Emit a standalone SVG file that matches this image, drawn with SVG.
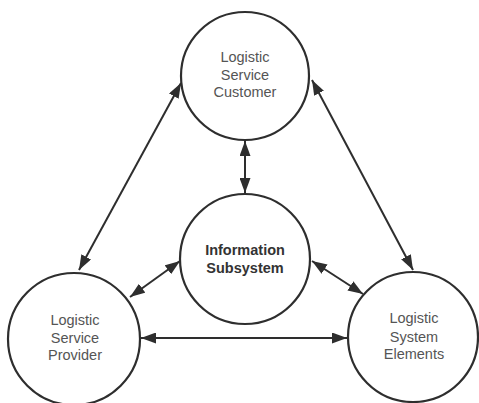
<svg xmlns="http://www.w3.org/2000/svg" width="479" height="403" viewBox="0 0 479 403">
<defs>
<marker id="ah" viewBox="0 0 15 11" refX="15" refY="5.5" markerWidth="15" markerHeight="11" markerUnits="userSpaceOnUse" orient="auto-start-reverse">
<path d="M0,0 L15,5.5 L0,11 Z" fill="#2e2e2e"/>
</marker>
</defs>
<style>
.node circle{fill:#fff;stroke:#2e2e2e;stroke-width:2.2}
.lbl{font-family:"Liberation Sans",Arial,sans-serif;font-size:14.5px;fill:#555;text-anchor:middle}
.b{font-weight:bold;fill:#333}
.conn line{stroke:#2e2e2e;stroke-width:2;marker-start:url(#ah);marker-end:url(#ah)}
</style>
<rect width="479" height="403" fill="#fff"/>
<g id="connectors" class="conn">
<line x1="181" y1="83" x2="79" y2="270"/>
<line x1="312" y1="80" x2="413" y2="270"/>
<line x1="245" y1="141" x2="245" y2="193"/>
<line x1="180" y1="261" x2="130" y2="297"/>
<line x1="312" y1="261" x2="363" y2="294"/>
<line x1="141" y1="338" x2="347" y2="338"/>
</g>
<g id="customer" class="node">
<circle cx="245" cy="76" r="64"/>
<text class="lbl" x="245" y="62">Logistic</text>
<text class="lbl" x="245" y="80">Service</text>
<text class="lbl" x="245" y="97">Customer</text>
</g>
<g id="info" class="node">
<circle cx="245" cy="259" r="65"/>
<text class="lbl b" x="245" y="255">Information</text>
<text class="lbl b" x="245" y="273">Subsystem</text>
</g>
<g id="provider" class="node">
<circle cx="74" cy="339" r="66"/>
<text class="lbl" x="75" y="325">Logistic</text>
<text class="lbl" x="75" y="343">Service</text>
<text class="lbl" x="75" y="360">Provider</text>
</g>
<g id="elements" class="node">
<circle cx="413" cy="337" r="65"/>
<text class="lbl" x="414" y="323">Logistic</text>
<text class="lbl" x="414" y="342">System</text>
<text class="lbl" x="414" y="359">Elements</text>
</g>
</svg>
